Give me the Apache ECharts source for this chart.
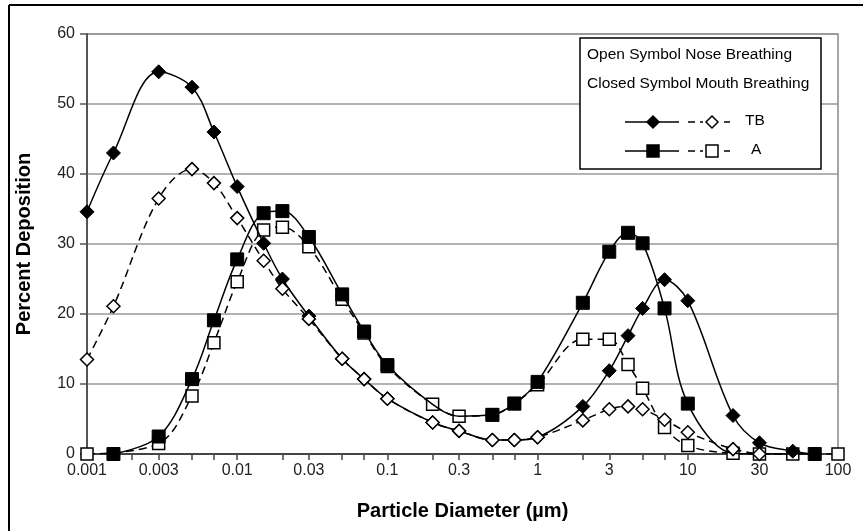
<!DOCTYPE html>
<html>
<head>
<meta charset="utf-8">
<script src="https://cdn.jsdelivr.net/npm/echarts@6/dist/echarts.min.js"></script>
<style>
  html, body { margin: 0; padding: 0; background: #fff; }
  #chart { width: 863px; height: 531px; }
</style>
</head>
<body>
<div id="chart"></div>
<script>
// Particle diameters (µm) at which deposition was computed
const diameters = [0.001, 0.0015, 0.003, 0.005, 0.007, 0.01, 0.015, 0.02, 0.03, 0.05, 0.07, 0.1,
                   0.2, 0.3, 0.5, 0.7, 1, 2, 3, 4, 5, 7, 10, 20, 30, 50, 70, 100];

// Percent deposition, tracheobronchial region (TB)
const tbMouth = [34.6, 43.0, 54.6, 52.4, 46.0, 38.2, 30.1, 25.0, 19.7, 13.6, 10.7, 7.9,
                 4.5, 3.3, 2.0, 2.0, 2.4, 6.8, 11.9, 16.9, 20.8, 24.9, 21.9, 5.5, 1.6, 0.4, 0, null];
const tbNose  = [13.5, 21.1, 36.5, 40.7, 38.7, 33.7, 27.6, 23.6, 19.3, 13.6, 10.7, 7.9,
                 4.5, 3.3, 2.0, 2.0, 2.4, 4.8, 6.4, 6.8, 6.4, 4.9, 3.1, 0.7, 0, null, null, null];

// Percent deposition, alveolar region (A)
const aMouth  = [null, 0, 2.5, 10.7, 19.1, 27.8, 34.4, 34.7, 31.0, 22.8, 17.5, 12.7,
                 7.1, 5.4, 5.6, 7.2, 10.3, 21.6, 28.9, 31.6, 30.1, 20.8, 7.2, 0.1, 0, 0, 0, null];
const aNose   = [0, null, 1.5, 8.3, 15.9, 24.6, 32.0, 32.4, 29.6, 22.1, 17.3, 12.5,
                 7.1, 5.4, 5.6, 7.2, 9.9, 16.4, 16.4, 12.8, 9.4, 3.8, 1.2, 0.1, 0, 0, null, 0];
// diameters where the mouth-breathing A curve runs without its own marker
const aMouthUnmarked = [0.2, 0.3, 20, 30, 50];

// Axis labelling
const xTickLabels = ['0.001', '0.003', '0.01', '0.03', '0.1', '0.3', '1', '3', '10', '30', '100'];
const xTickMarks = [0.001, 0.002, 0.003, 0.005, 0.007, 0.01, 0.02, 0.03, 0.05, 0.07, 0.1, 0.2, 0.3, 0.5, 0.7,
                    1, 2, 3, 5, 7, 10, 20, 30, 50, 70, 100];
const yTicks = [0, 10, 20, 30, 40, 50, 60];

const FONT = '"Liberation Sans", Arial, sans-serif';

function toPoints(values, unmarked) {
  const out = [];
  diameters.forEach((d, i) => {
    if (values[i] == null) return;
    if (unmarked && unmarked.indexOf(d) >= 0) {
      out.push({ value: [d, values[i]], symbol: 'none' });
    } else {
      out.push([d, values[i]]);
    }
  });
  return out;
}

function labelFor(v) {
  let best = xTickLabels[0], err = Infinity;
  xTickLabels.forEach(s => {
    const e = Math.abs(Math.log10(Number(s)) - Math.log10(v));
    if (e < err) { err = e; best = s; }
  });
  return best;
}

const lineBase = { type: 'line', smooth: 0.35 };
const solid = { color: '#000', width: 1.5, type: 'solid' };
const dashed = { color: '#000', width: 1.5, type: [8, 5] };

const chart = echarts.init(document.getElementById('chart'), null, { renderer: 'canvas' });

// Legend drawing helpers (legend decorations only)
function diamond(cx, cy, r, filled) {
  return {
    type: 'polygon', z: 101,
    shape: { points: [[cx, cy - r], [cx + r, cy], [cx, cy + r], [cx - r, cy]] },
    style: { fill: filled ? '#000' : '#fff', stroke: '#000', lineWidth: 1.5 }
  };
}
function square(cx, cy, r, filled) {
  return {
    type: 'rect', z: 101,
    shape: { x: cx - r, y: cy - r, width: 2 * r, height: 2 * r },
    style: { fill: filled ? '#000' : '#fff', stroke: '#000', lineWidth: 1.5 }
  };
}
function seg(x1, x2, y, dash) {
  return {
    type: 'line', z: 100,
    shape: { x1: x1, y1: y, x2: x2, y2: y },
    style: { stroke: '#000', lineWidth: 1.5, lineDash: dash ? [7, 5] : null }
  };
}
function legendRow(y, marker, text, textX) {
  return [
    seg(625, 679, y, false),
    marker(653, y, 6, true),
    seg(688, 730, y, true),
    { type: 'rect', z: 100, shape: { x: 703, y: y - 8, width: 18, height: 16 }, style: { fill: '#fff' } },
    marker(712, y, 6, false),
    { type: 'text', z: 101, left: textX, top: y - 9,
      style: { text: text, font: '15.5px ' + FONT, fill: '#000' } }
  ];
}

const option = {
  animation: false,
  backgroundColor: '#fff',
  grid: {
    left: 87, right: 25, top: 34, bottom: 77,
    show: true, borderColor: '#888', borderWidth: 1.5, backgroundColor: 'transparent'
  },
  xAxis: {
    type: 'log', logBase: 10, min: 0.001, max: 100,
    name: 'Particle Diameter (µm)', nameLocation: 'middle', nameGap: 47,
    nameTextStyle: { fontFamily: FONT, fontSize: 20, fontWeight: 'bold', color: '#000' },
    axisLine: { show: true, onZero: false, lineStyle: { color: '#444', width: 2 } },
    axisTick: { show: true, length: 6, customValues: xTickMarks, lineStyle: { color: '#444', width: 1.5 } },
    minorTick: { show: false },
    axisLabel: {
      customValues: xTickLabels.map(Number),
      margin: 9, fontFamily: FONT, fontSize: 16, color: '#222',
      formatter: v => labelFor(v)
    },
    splitLine: { show: false }
  },
  yAxis: {
    type: 'value', min: yTicks[0], max: yTicks[yTicks.length - 1], interval: 10,
    name: 'Percent Deposition', nameLocation: 'middle', nameGap: 53, nameRotate: 90,
    nameTextStyle: { fontFamily: FONT, fontSize: 20, fontWeight: 'bold', color: '#000' },
    axisLine: { show: true, lineStyle: { color: '#555', width: 2 } },
    axisTick: { show: true, length: 7, lineStyle: { color: '#555', width: 1.5 } },
    axisLabel: { margin: 12, fontFamily: FONT, fontSize: 16, color: '#222' },
    splitLine: { show: true, lineStyle: { color: '#999', width: 1.5 } }
  },
  series: [
    Object.assign({}, lineBase, {
      name: 'A nose', data: toPoints(aNose), z: 3,
      symbol: 'rect', symbolSize: 12,
      lineStyle: dashed,
      itemStyle: { color: '#fff', borderColor: '#000', borderWidth: 1.5 }
    }),
    Object.assign({}, lineBase, {
      name: 'A mouth', data: toPoints(aMouth, aMouthUnmarked), z: 4,
      symbol: 'rect', symbolSize: 13,
      lineStyle: solid,
      itemStyle: { color: '#000', borderColor: '#000', borderWidth: 1 }
    }),
    Object.assign({}, lineBase, {
      name: 'TB mouth', data: toPoints(tbMouth), z: 5,
      symbol: 'diamond', symbolSize: [14, 14],
      lineStyle: solid,
      itemStyle: { color: '#000', borderColor: '#000', borderWidth: 1 }
    }),
    Object.assign({}, lineBase, {
      name: 'TB nose', data: toPoints(tbNose), z: 6,
      symbol: 'diamond', symbolSize: [13, 13],
      lineStyle: dashed,
      itemStyle: { color: '#fff', borderColor: '#000', borderWidth: 1.5 }
    })
  ],
  graphic: [
    // outer frame (left and top edges)
    { type: 'line', z: 100, shape: { x1: 9, y1: 5, x2: 9, y2: 531 }, style: { stroke: '#000', lineWidth: 2 } },
    { type: 'line', z: 100, shape: { x1: 9, y1: 5, x2: 863, y2: 5 }, style: { stroke: '#000', lineWidth: 2 } },
    // legend box
    { type: 'rect', z: 99, shape: { x: 580, y: 38, width: 241, height: 131 },
      style: { fill: '#fff', stroke: '#000', lineWidth: 1.5 } },
    { type: 'text', z: 101, left: 587, top: 47,
      style: { text: 'Open Symbol Nose Breathing', font: '15.5px ' + FONT, fill: '#000' } },
    { type: 'text', z: 101, left: 587, top: 76,
      style: { text: 'Closed Symbol Mouth Breathing', font: '15.5px ' + FONT, fill: '#000' } }
  ].concat(legendRow(122, diamond, 'TB', 745)).concat(legendRow(151, square, 'A', 751))
};

chart.setOption(option);
</script>
</body>
</html>
